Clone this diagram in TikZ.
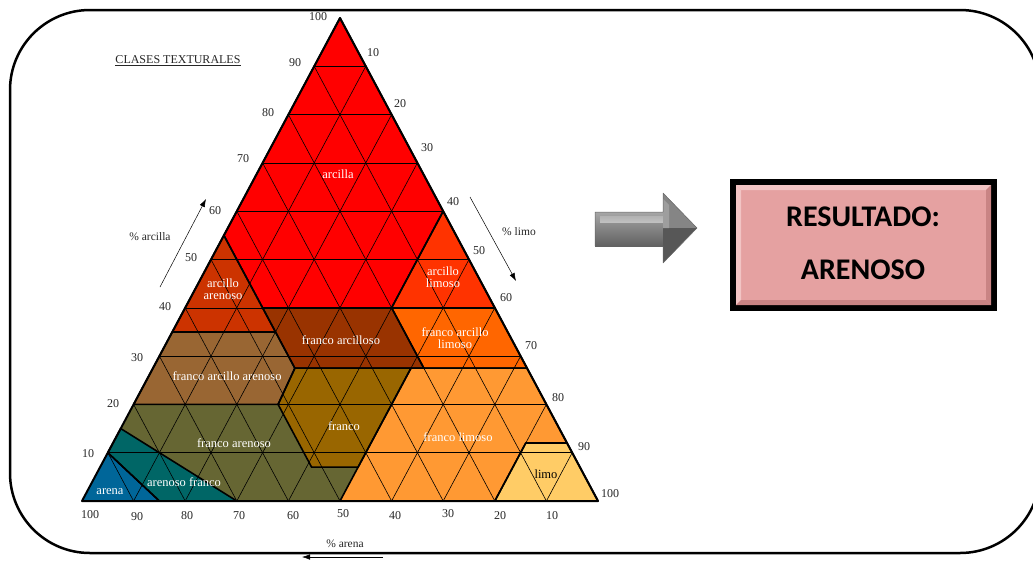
\documentclass[tikz,border=0pt]{standalone}
\usepackage{fontspec}
\setmainfont{Liberation Serif}
\newfontfamily\calib{Carlito}
\usetikzlibrary{arrows.meta}

% ternary point: clay #1, silt #2  (pixel coordinates, y downward)
\newcommand\TP[2]{({82+5.16*((#2)+(#1)/2)},{501-4.83*(#1)})}

\definecolor{cArcilla}{HTML}{FF0000}
\definecolor{cArLimo}{HTML}{FF3300}
\definecolor{cArAren}{HTML}{CC3300}
\definecolor{cFrArc}{HTML}{993300}
\definecolor{cFrArLimo}{HTML}{FF6600}
\definecolor{cFrArAren}{HTML}{996633}
\definecolor{cFranco}{HTML}{996600}
\definecolor{cFrLimo}{HTML}{FF9933}
\definecolor{cLimo}{HTML}{FFCC66}
\definecolor{cFrAren}{HTML}{666633}
\definecolor{cArenFr}{HTML}{006666}
\definecolor{cArena}{HTML}{006699}
\definecolor{cPink}{HTML}{E5A1A1}
\definecolor{cPinkLt}{HTML}{F2C4C4}
\definecolor{cPinkDk}{HTML}{C98484}

\begin{document}
\begin{tikzpicture}[x=1pt,y=-1pt,
  region/.style={draw=black,line width=1.6pt,line join=round},
  gridline/.style={line width=0.6pt,draw=black},
  lbl/.style={text=white,font=\fontsize{12.5}{13.5}\selectfont,inner sep=0pt,align=center},
  num/.style={font=\fontsize{12}{13}\selectfont,text=black!85,inner sep=0pt},
  axlbl/.style={font=\fontsize{11.5}{12}\selectfont,text=black!85,inner sep=0pt},
  thinarrow/.style={line width=0.5pt,-{Latex[length=8pt,width=5.5pt]}},
  bigtxt/.style={font=\calib\bfseries\fontsize{30}{32}\selectfont,text=black,inner sep=0pt}]
\useasboundingbox (0,0) rectangle (1033,560);

% outer frame
\draw[line width=2.5pt,rounded corners=80pt] (10,10) rectangle (1040,553);

% ---------- regions (fills) ----------
\fill[cArcilla]  \TP{100}{0} -- \TP{60}{40} -- \TP{40}{40} -- \TP{40}{15} -- \TP{55}{0} -- cycle;
\fill[cArLimo]   \TP{60}{40} -- \TP{40}{60} -- \TP{40}{40} -- cycle;
\fill[cArAren]   \TP{55}{0} -- \TP{40}{15} -- \TP{35}{20} -- \TP{35}{0} -- cycle;
\fill[cFrArc]    \TP{40}{15} -- \TP{40}{40} -- \TP{27.5}{52.5} -- \TP{27.5}{27.5} -- cycle;
\fill[cFrArLimo] \TP{40}{40} -- \TP{40}{60} -- \TP{27.5}{72.5} -- \TP{27.5}{52.5} -- cycle;
\fill[cFrArAren] \TP{35}{0} -- \TP{35}{20} -- \TP{27.5}{27.5} -- \TP{20}{28} -- \TP{20}{0} -- cycle;
\fill[cFranco]   \TP{27.5}{27.5} -- \TP{27.5}{50} -- \TP{7}{50} -- \TP{7}{41} -- \TP{20}{28} -- cycle;
\fill[cFrLimo]   \TP{27.5}{50} -- \TP{27.5}{72.5} -- \TP{12}{88} -- \TP{12}{80} -- \TP{0}{80} -- \TP{0}{50} -- cycle;
\fill[cLimo]     \TP{12}{80} -- \TP{12}{88} -- \TP{0}{100} -- \TP{0}{80} -- cycle;
\fill[cFrAren]   \TP{20}{0} -- \TP{20}{28} -- \TP{7}{41} -- \TP{7}{50} -- \TP{0}{50} -- \TP{0}{30} -- \TP{15}{0} -- cycle;
\fill[cArenFr]   \TP{15}{0} -- \TP{0}{30} -- \TP{0}{15} -- \TP{10}{0} -- cycle;
\fill[cArena]    \TP{10}{0} -- \TP{0}{15} -- \TP{0}{0} -- cycle;

% ---------- lattice ----------
\foreach \k in {10,20,...,90}{
  \draw[gridline] \TP{\k}{0} -- \TP{\k}{100-\k};
  \draw[gridline] \TP{0}{\k} -- \TP{100-\k}{\k};
  \draw[gridline] \TP{0}{100-\k} -- \TP{100-\k}{0};
}

% ---------- region borders ----------
\draw[region] \TP{100}{0} -- \TP{60}{40} -- \TP{40}{40} -- \TP{40}{15} -- \TP{55}{0} -- cycle;
\draw[region] \TP{60}{40} -- \TP{40}{60} -- \TP{40}{40} -- cycle;
\draw[region] \TP{55}{0} -- \TP{40}{15} -- \TP{35}{20} -- \TP{35}{0} -- cycle;
\draw[region] \TP{40}{15} -- \TP{40}{40} -- \TP{27.5}{52.5} -- \TP{27.5}{27.5} -- cycle;
\draw[region] \TP{40}{40} -- \TP{40}{60} -- \TP{27.5}{72.5} -- \TP{27.5}{52.5} -- cycle;
\draw[region] \TP{35}{0} -- \TP{35}{20} -- \TP{27.5}{27.5} -- \TP{20}{28} -- \TP{20}{0} -- cycle;
\draw[region] \TP{27.5}{27.5} -- \TP{27.5}{50} -- \TP{7}{50} -- \TP{7}{41} -- \TP{20}{28} -- cycle;
\draw[region] \TP{27.5}{50} -- \TP{27.5}{72.5} -- \TP{12}{88} -- \TP{12}{80} -- \TP{0}{80} -- \TP{0}{50} -- cycle;
\draw[region] \TP{12}{80} -- \TP{12}{88} -- \TP{0}{100} -- \TP{0}{80} -- cycle;
\draw[region] \TP{15}{0} -- \TP{0}{30} -- \TP{0}{15} -- \TP{10}{0} -- cycle;
\draw[region] \TP{10}{0} -- \TP{0}{15};
\draw[line width=2pt,line join=round] \TP{100}{0} -- \TP{0}{100} -- \TP{0}{0} -- cycle;

% ---------- region labels ----------
\node[lbl] (lArcilla)  at (338,174) {arcilla};
\node[lbl] (lArLimo)   at (443,277) {arcillo\\[-1.5pt]limoso};
\node[lbl] (lArAren)   at (223,289) {arcillo\\[-1.5pt]arenoso};
\node[lbl] (lFrArc)    at (341,340) {franco arcilloso};
\node[lbl] (lFrArLimo) at (455,338) {franco arcillo\\[-1.5pt]limoso};
\node[lbl] (lFrArAren) at (227,376) {franco arcillo arenoso};
\node[lbl] (lFranco)   at (344,426) {franco};
\node[lbl] (lFrAren)   at (234,443) {franco arenoso};
\node[lbl] (lFrLimo)   at (458,437) {franco limoso};
\node[lbl] (lArenFr)   at (184,482) {arenoso franco};
\node[lbl] (lArena)    at (110,492) {arena};
\node[lbl,text=black] (lLimo) at (546,474) {limo};

% ---------- axis numbers ----------
% clay (left side)
\node[num] (c100) at (318,17)  {100};
\node[num] (c90)  at (295,63)  {90};
\node[num] (c80)  at (268,113) {80};
\node[num] (c70)  at (243,159) {70};
\node[num] (c60)  at (215,211) {60};
\node[num] (c50)  at (191,258) {50};
\node[num] (c40)  at (165,307) {40};
\node[num] (c30)  at (137,358) {30};
\node[num] (c20)  at (113,404) {20};
\node[num] (c10)  at (88,454)  {10};
% silt (right side)
\node[num] (s10)  at (373,53)  {10};
\node[num] (s20)  at (400,104) {20};
\node[num] (s30)  at (427,148) {30};
\node[num] (s40)  at (453,202) {40};
\node[num] (s50)  at (479,251) {50};
\node[num] (s60)  at (506,298) {60};
\node[num] (s70)  at (531,346) {70};
\node[num] (s80)  at (558,398) {80};
\node[num] (s90)  at (584,447) {90};
\node[num] (s100) at (610,494) {100};
% sand (bottom)
\node[num] (a100) at (90,515)  {100};
\node[num] (a90)  at (137,517) {90};
\node[num] (a80)  at (187,516) {80};
\node[num] (a70)  at (239,516) {70};
\node[num] (a60)  at (293,516) {60};
\node[num] (a50)  at (343,514) {50};
\node[num] (a40)  at (395,516) {40};
\node[num] (a30)  at (448,514) {30};
\node[num] (a20)  at (500,516) {20};
\node[num] (a10)  at (552,516) {10};

% ---------- title and axis names ----------
\node[axlbl,font=\fontsize{12}{13}\selectfont] (title) at (178,61) {\underline{CLASES TEXTURALES}};
\node[axlbl] (tArc)  at (150,237) {\% arcilla};
\node[axlbl] (tLimo) at (519,232) {\% limo};
\node[axlbl] (tAren) at (345,544) {\% arena};

\coordinate (arcS) at (160,287);  \coordinate (arcE) at (206,199);
\coordinate (limS) at (470,197);  \coordinate (limE) at (516,281);
\coordinate (arnS) at (383,557);  \coordinate (arnE) at (302,557);
\draw[thinarrow] (arcS) -- (arcE);
\draw[thinarrow] (limS) -- (limE);
\draw[thinarrow] (arnS) -- (arnE);

% ---------- big grey arrow ----------
\shade[top color=black!35,bottom color=black!62]
  (595,212) rectangle (664,246);
\shade[top color=black!28,bottom color=black!20,opacity=0.8]
  (600,216) rectangle (664,222);
\fill[black!48] (663,193) -- (697,228) -- (663,228) -- cycle;
\fill[black!66] (663,228) -- (697,228) -- (663,263) -- cycle;
\fill[black!38] (663,199) -- (669,205) -- (669,228) -- (663,228) -- cycle;
\draw[black!60,line width=0.5pt,line join=round]
  (595,212) -- (663,212) -- (663,193) -- (697,228) -- (663,263) -- (663,246) -- (595,246) -- cycle;

% ---------- result box ----------
\fill[black] (730,179) rectangle (997,311);
\fill[cPink] (736,185) rectangle (991,305);
\fill[cPinkLt] (736,185) -- (991,185) -- (986,190) -- (741,190) -- cycle;
\fill[cPinkLt] (736,185) -- (741,190) -- (741,300) -- (736,305) -- cycle;
\fill[cPinkDk] (736,305) -- (991,305) -- (986,300) -- (741,300) -- cycle;
\fill[cPinkDk] (991,185) -- (991,305) -- (986,300) -- (986,190) -- cycle;
\node[bigtxt] (res) at (863,217) {RESULTADO:};
\node[bigtxt] (val) at (863,270) {ARENOSO};
\end{tikzpicture}
\end{document}
